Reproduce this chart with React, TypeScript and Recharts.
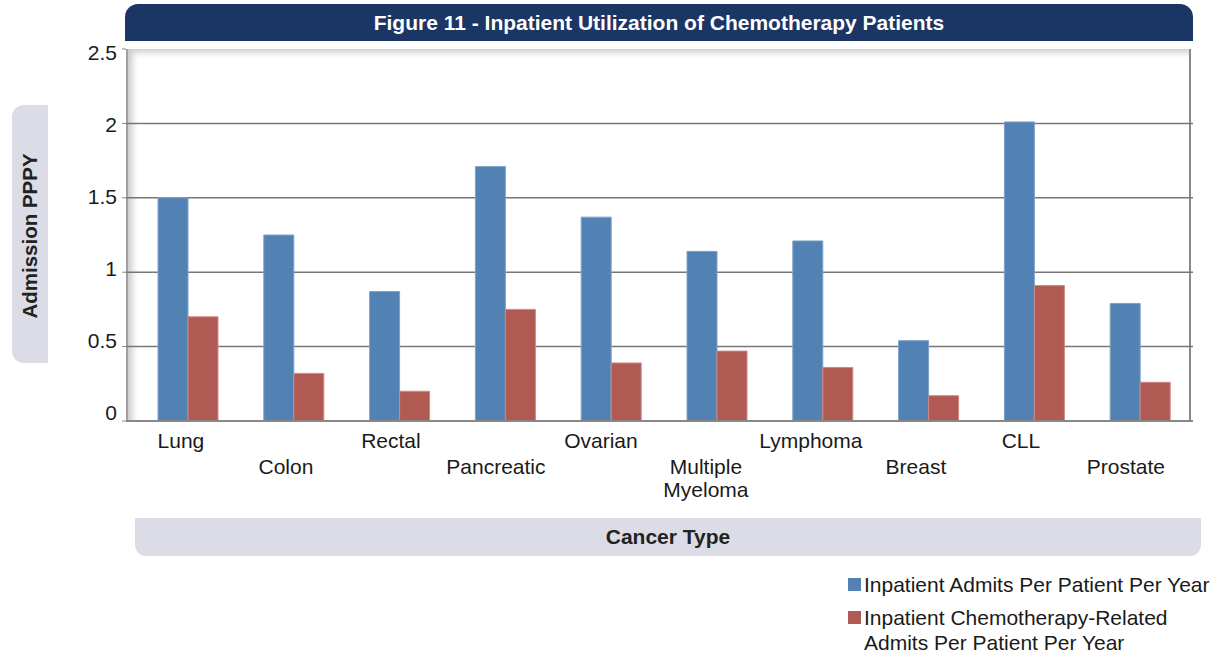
import React from 'react';
import { BarChart, Bar, XAxis, YAxis, CartesianGrid } from 'recharts';

// Données
const categories = ['Lung', 'Colon', 'Rectal', 'Pancreatic', 'Ovarian', 'Multiple\nMyeloma', 'Lymphoma', 'Breast', 'CLL', 'Prostate'];
const admits = [1.5, 1.25, 0.87, 1.71, 1.37, 1.14, 1.21, 0.54, 2.01, 0.79];
const chemoAdmits = [0.7, 0.32, 0.2, 0.75, 0.39, 0.47, 0.36, 0.17, 0.91, 0.26];
const yTicks = [0, 0.5, 1, 1.5, 2, 2.5];
const gridValues = [0.5, 1, 1.5, 2];

const seriesNames = ['Inpatient Admits Per Patient Per Year', 'Inpatient Chemotherapy-Related\nAdmits Per Patient Per Year'];
const blue = '#5282b4';
const red = '#b15a54';

const data = categories.map((c, i) => ({ name: c, admits: admits[i], chemo: chemoAdmits[i] }));

const font = '"Liberation Sans", Arial, sans-serif';

const XTick = (props: any) => {
  const { x, y, payload, index } = props;
  const lines = String(payload.value).split('\n');
  const base = index % 2 === 0 ? 19 : 45;
  return (
    <g transform={`translate(${x - 7 - index * 0.8},${y})`}>
      <text textAnchor="middle" fontSize={21} fill="#1a1a1a" fontFamily={font}>
        {lines.map((l, k) => (
          <tspan key={k} x={0} y={base + k * 23}>{l}</tspan>
        ))}
      </text>
    </g>
  );
};

const YTick = (props: any) => {
  const { x, y, payload } = props;
  const shift = 4 - (2.5 - payload.value) * 4.8;
  return (
    <text x={x - 3} y={y + shift} dy={7} textAnchor="end" fontSize={21} fill="#1a1a1a" fontFamily={font}>
      {payload.value}
    </text>
  );
};

export default function App() {
  return (
    <div style={{ position: 'absolute', left: 0, top: 0, width: 1217, height: 657, background: '#fff', fontFamily: font }}>
      {/* titre */}
      <div style={{ position: 'absolute', left: 125, top: 4, width: 1068, height: 37, background: '#1b3664', borderRadius: '13px 13px 0 0', color: '#fff', fontWeight: 'bold', fontSize: 21, lineHeight: '38px', textAlign: 'center' }}>
        Figure 11 - Inpatient Utilization of Chemotherapy Patients
      </div>
      {/* fond de la zone de tracé avec ombre */}
      <div style={{ position: 'absolute', left: 126, top: 49, width: 1065, height: 372, boxShadow: 'inset 6px 5px 7px -2px rgba(0,0,0,0.22)', borderLeft: '2px solid #a0a0a0', borderRight: '2px solid #888', boxSizing: 'border-box' }} />
      {/* titre axe Y */}
      <div style={{ position: 'absolute', left: 12, top: 105, width: 36, height: 258, background: '#dcdce6', borderRadius: '12px 0 0 12px' }}>
        <div style={{ position: 'absolute', left: 18, top: 131, transform: 'translate(-50%,-50%) rotate(-90deg)', whiteSpace: 'nowrap', fontWeight: 'bold', fontSize: 20.5, color: '#222' }}>
          Admission PPPY
        </div>
      </div>
      {/* titre axe X */}
      <div style={{ position: 'absolute', left: 135, top: 518, width: 1066, height: 38, background: '#dcdce6', borderRadius: '0 0 11px 11px', textAlign: 'center', lineHeight: '37px', fontWeight: 'bold', fontSize: 21, color: '#222' }}>
        Cancer Type
      </div>
      <div style={{ position: 'absolute', left: 0, top: 0 }}>
        <BarChart width={1217} height={657} data={data} margin={{ top: 49, right: 24, left: 66, bottom: 156 }} barGap={0} barSize={30}>
          <CartesianGrid vertical={false} horizontalValues={gridValues} stroke="#777" strokeWidth={1.5} />
          <XAxis dataKey="name" interval={0} tick={<XTick />} tickLine={false} axisLine={{ stroke: '#888', strokeWidth: 2 }} height={80} padding={{ left: 9, right: 0 }} />
          <YAxis domain={[0, 2.5]} ticks={yTicks} width={60} tick={<YTick />} axisLine={false} tickLine={{ stroke: '#888' }} tickSize={4} />
          <Bar dataKey="admits" fill={blue} stroke="#7ea2c9" strokeWidth={1} isAnimationActive={false} />
          <Bar dataKey="chemo" fill={red} stroke="#cc8a85" strokeWidth={1} isAnimationActive={false} />
        </BarChart>
      </div>
      {/* légende */}
      <div style={{ position: 'absolute', left: 848, top: 572, fontSize: 21, color: '#1a1a1a', lineHeight: '25px' }}>
        {seriesNames.map((n, i) => (
          <div key={i} style={{ position: 'relative', paddingLeft: 16, marginBottom: 8, whiteSpace: 'pre' }}>
            <span style={{ position: 'absolute', left: 0, top: 6, width: 13, height: 13, background: i === 0 ? blue : red }} />
            {n}
          </div>
        ))}
      </div>
    </div>
  );
}
